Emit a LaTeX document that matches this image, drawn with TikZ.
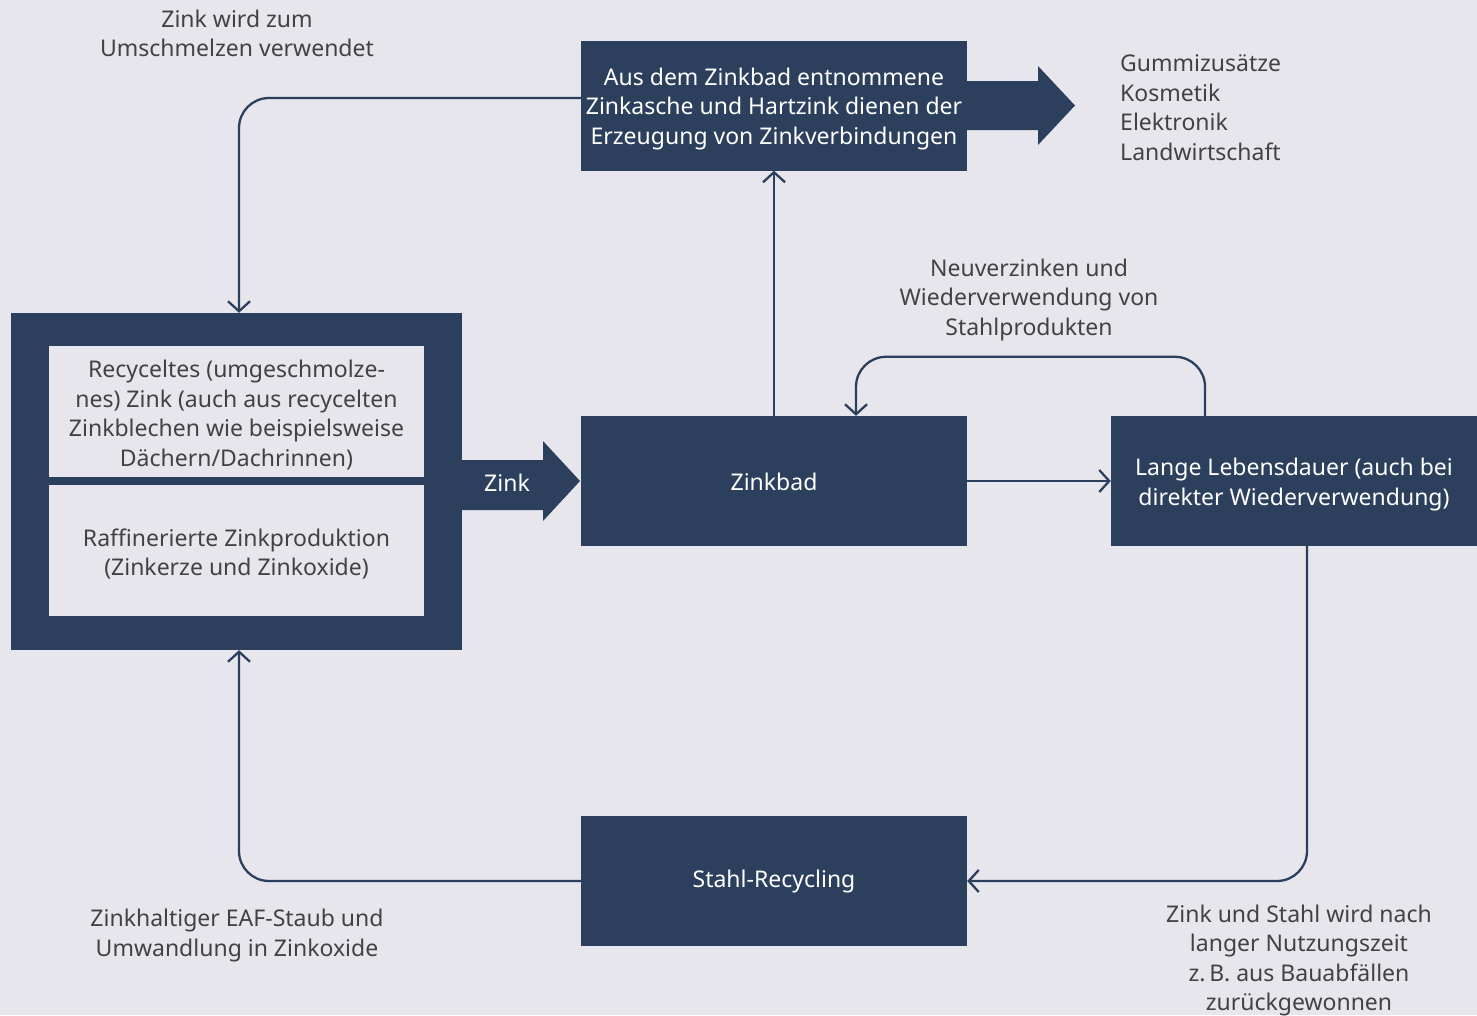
\documentclass[tikz,border=0pt]{standalone}
\usepackage{fontspec}
\setmainfont{Noto Sans}
\usetikzlibrary{arrows.meta}
\definecolor{navy}{HTML}{2C405E}
\definecolor{paper}{HTML}{E7E6EC}
\definecolor{ink}{HTML}{424242}
\begin{document}
\begin{tikzpicture}[x=1pt,y=-1pt,
  font=\fontsize{23}{29.5}\selectfont,
  stage/.style={fill=navy, inner sep=0pt,
    minimum width=386pt, minimum height=130pt},
  source/.style={fill=paper, inner sep=0pt,
    minimum width=375pt, minimum height=131pt},
  boxtext/.style={text=white, align=center, inner sep=0pt, yshift=-3.5pt},
  srctext/.style={text=ink, align=center, inner sep=0pt, yshift=-3.5pt},
  note/.style={text=ink, align=center, inner sep=0pt},
  flow/.style={draw=navy, line width=2.3pt, rounded corners=30pt,
    -{Straight Barb[length=10pt,width=22pt,line width=2.3pt]}},
  bigarrow/.style={fill=navy}]
% canvas
\fill[paper] (0,0) rectangle (1477,1015);
\useasboundingbox (0,0) rectangle (1477,1015);

% sources of zinc
\node[fill=navy, inner sep=0pt, minimum width=451pt, minimum height=337pt] (src) at (236.5,481.5) {};
\node[source] (recycled) at (236.5,411.5) {};
\node[srctext] (recycledtext) at (recycled) {Recyceltes (umgeschmolze-\\nes) Zink (auch aus recycelten\\Zinkblechen wie beispielsweise\\Dächern/Dachrinnen)};
\node[source] (refined) at (236.5,550.5) {};
\node[srctext] (refinedtext) at (refined) {Raffinerierte Zinkproduktion\\(Zinkerze und Zinkoxide)};

% process stages
\node[stage] (top) at (774,105.5) {};
\node[boxtext] (toptext) at (top) {Aus dem Zinkbad entnommene\\Zinkasche und Hartzink dienen der\\Erzeugung von Zinkverbindungen};
\node[stage] (bath) at (774,481) {};
\node[boxtext, yshift=2.5pt] (bathtext) at (bath) {Zinkbad};
\node[stage, minimum width=366pt] (life) at (1294,481) {};
\node[boxtext] (lifetext) at (life) {Lange Lebensdauer (auch bei\\direkter Wiederverwendung)};
\node[stage] (steel) at (774,881) {};
\node[boxtext, yshift=2.5pt] (steeltext) at (steel) {Stahl-Recycling};

% block arrow: zinc into the bath
\fill[bigarrow] (462,460) -- (543,460) -- (543,441) -- (580,481) -- (543,521) -- (543,510) -- (462,510) -- cycle;
\node[text=white, inner sep=0pt] (zinc) at (507,482.5) {Zink};

% block arrow: zinc compounds out to industry
\fill[bigarrow] (967,81) -- (1038,81) -- (1038,66) -- (1075,105.5) -- (1038,145) -- (1038,130) -- (967,130) -- cycle;
\node[text=ink, align=left, anchor=west, inner sep=0pt] (uses) at (1120,107.5) {Gummizusätze\\Kosmetik\\Elektronik\\Landwirtschaft};

% connectors
\draw[flow] ([yshift=7.5pt]top.west) -| ([xshift=2.5pt]src.north);
\draw[flow] (bath.north) -- (top.south);
\draw[flow] ([xshift=-89pt]life.north) -- ++(0,-59) -| ([xshift=82pt]bath.north);
\draw[flow] (bath.east) -- (life.west);
\draw[flow] ([xshift=13pt]life.south) |- (steel.east);
\draw[flow] (steel.west) -| ([xshift=2.5pt]src.south);

% labels
\node[note] (remelt) at (237,33.5) {Zink wird zum\\Umschmelzen verwendet};
\node[note] (regalv) at (1029,300) {Neuverzinken und\\Wiederverwendung von\\Stahlprodukten};
\node[note] (eaf) at (237,935.5) {Zinkhaltiger EAF-Staub und\\Umwandlung in Zinkoxide};
\node[note] (recover) at (1299,960.5) {Zink und Stahl wird nach\\langer Nutzungszeit\\z.\,B. aus Bauabfällen\\zurückgewonnen};
\end{tikzpicture}
\end{document}
